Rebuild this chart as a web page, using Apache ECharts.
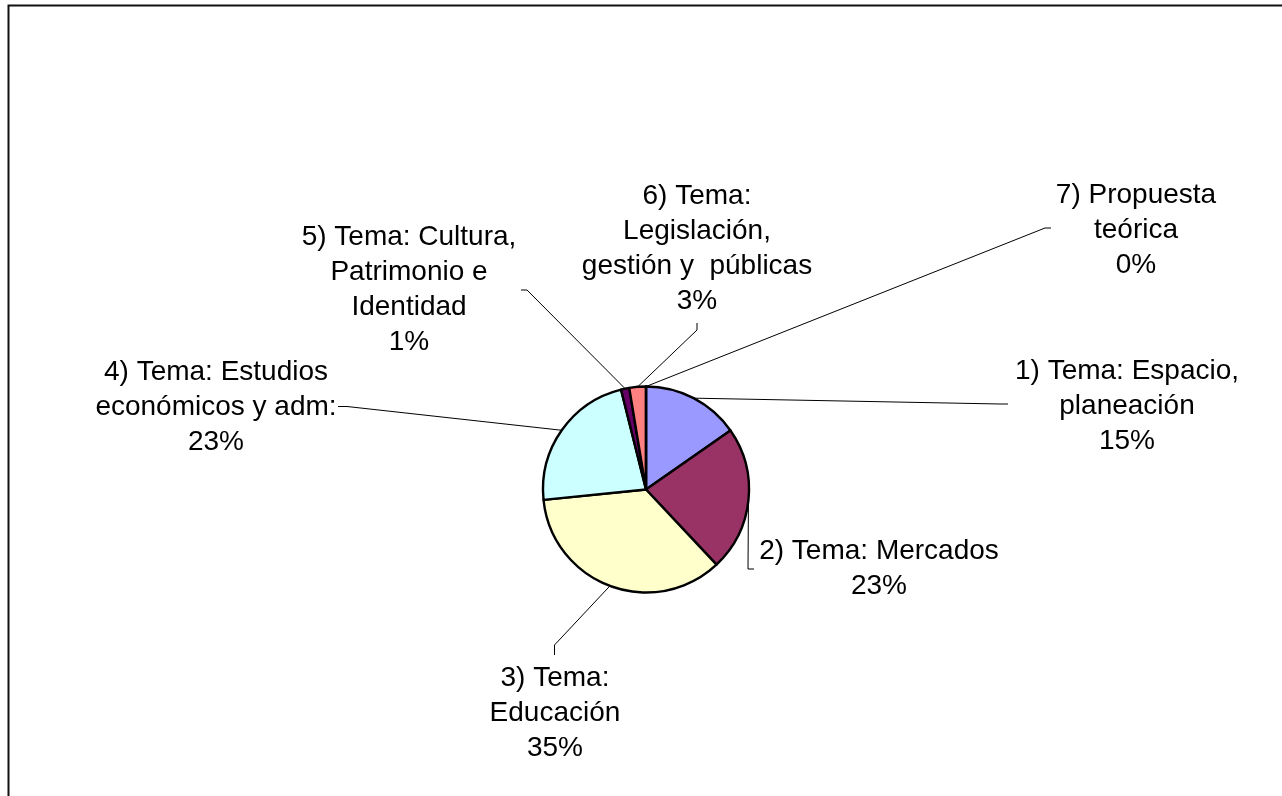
<!DOCTYPE html>
<html>
<head>
<meta charset="utf-8">
<script src="https://cdn.jsdelivr.net/npm/echarts@6/dist/echarts.min.js"></script>
<style>
html,body{margin:0;padding:0;background:#fff;}
#chart{width:1282px;height:796px;}
</style>
</head>
<body>
<div id="chart"></div>
<script>
// Data
var categories = [
  '1) Tema: Espacio,\nplaneación',
  '2) Tema: Mercados',
  '3) Tema:\nEducación',
  '4) Tema: Estudios\neconómicos y adm:',
  '5) Tema: Cultura,\nPatrimonio e\nIdentidad',
  '6) Tema:\nLegislación,\ngestión y  públicas',
  '7) Propuesta\nteórica'
];
var values = [15.3, 22.7, 35.4, 22.7, 1.3, 2.6, 0];
var colors = ['#9999FF', '#993366', '#FFFFCC', '#CCFFFF', '#660066', '#FF8080', '#0066CC'];

// Label layout (label centers and leader-line bend points, in pixels)
var labelCenters = [[1127, 406], [879, 569], [555, 713], [216, 407], [409, 290], [697, 249], [1136, 230]];
var bends = [
  [[1000, 404], [1008, 404]],
  [[748, 569], [754, 569]],
  [[554.5, 645], [554.5, 655]],
  [[347, 406.5], [338, 406.5]],
  [[527, 290], [521, 290]],
  [[697, 330], [697, 323]],
  [[1045, 228], [1051, 228]]
];

var chart = echarts.init(document.getElementById('chart'), null, {renderer: 'canvas'});
var data = categories.map(function (c, i) {
  return {name: c, value: values[i], itemStyle: {color: colors[i]}};
});
var pieCenter = [646, 489.5];
var pieRadius = 103;

chart.setOption({
  animation: false,
  backgroundColor: '#fff',
  graphic: [{
    type: 'rect',
    shape: {x: 8.5, y: 5.5, width: 1400, height: 1000},
    style: {fill: 'none', stroke: '#111', lineWidth: 2},
    silent: true
  }],
  series: [{
    type: 'pie',
    center: pieCenter,
    radius: pieRadius,
    startAngle: 90,
    clockwise: true,
    avoidLabelOverlap: false,
    data: data,
    itemStyle: {borderColor: '#000', borderWidth: 2.4},
    label: {
      show: true,
      position: 'outside',
      color: '#000',
      fontSize: 28,
      lineHeight: 35,
      fontFamily: '"Liberation Sans", Arial, sans-serif',
      align: 'center',
      formatter: function (p) {
        return p.name + '\n' + Math.round(p.percent) + '%';
      }
    },
    labelLine: {
      show: true,
      length: 10,
      length2: 10,
      lineStyle: {color: '#000', width: 1}
    },
    labelLayout: function (params) {
      var i = params.dataIndex;
      var start;
      if (params.labelLinePoints && params.labelLinePoints[0]) {
        start = params.labelLinePoints[0];
      } else {
        start = [pieCenter[0], pieCenter[1] - pieRadius];
      }
      return {
        x: labelCenters[i][0],
        y: labelCenters[i][1],
        align: 'center',
        verticalAlign: 'middle',
        labelLinePoints: [start, bends[i][0], bends[i][1]]
      };
    }
  }]
});
</script>
</body>
</html>
